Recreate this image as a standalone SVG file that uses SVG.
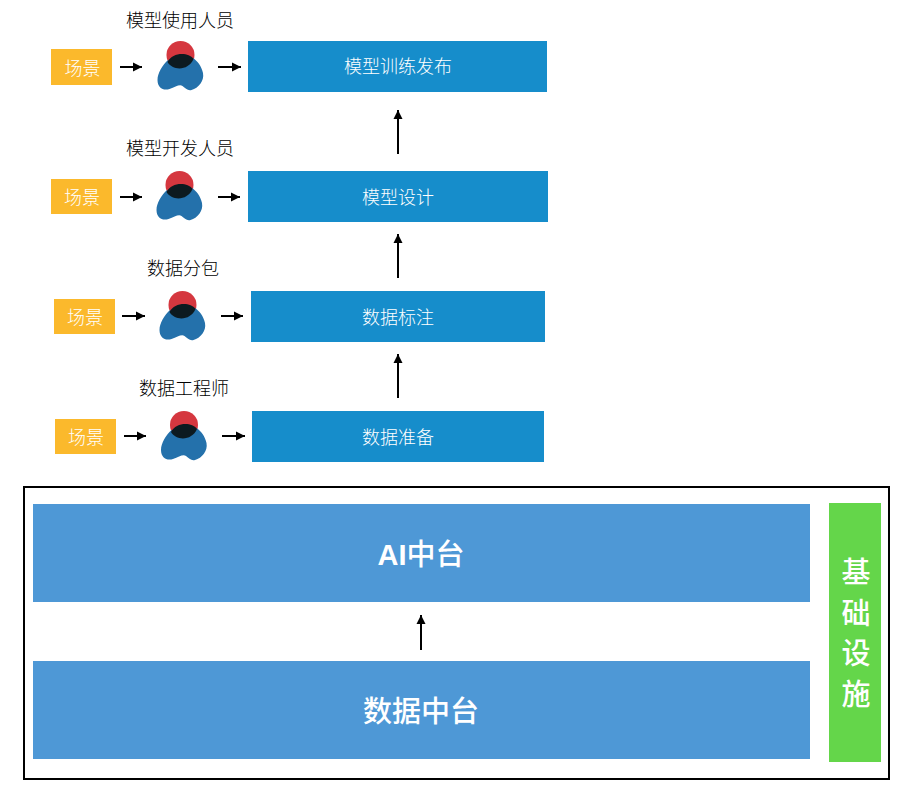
<svg xmlns="http://www.w3.org/2000/svg" width="918" height="788" viewBox="0 0 918 788">
<style>
text{font-family:"Noto Sans CJK SC","Liberation Sans",sans-serif;text-anchor:middle}
.t{font-size:18px;fill:#000;font-weight:300}
.s{fill:#fbb92c}.st{font-size:18px;fill:#fff;font-weight:300}
.b{fill:#168dcb}.bt{font-size:18px;fill:#fff;font-weight:300}
.l{stroke:#000;stroke-width:2;fill:none}
.big{fill:#4e98d6}.bigt{font-size:29px;font-weight:500;fill:#fff}
.lat{font-family:"Liberation Sans",sans-serif;font-weight:700}
.g{font-size:29px;font-weight:500;fill:#fff}
</style>
<defs>
<marker id="a" markerUnits="userSpaceOnUse" markerWidth="10" markerHeight="10" refX="9" refY="5" orient="auto"><path d="M0 .5 L9 5 L0 9.500Z" fill="#000"/></marker>
<g id="person">
<circle cx="0" cy="14" r="14" fill="#d5373f"/>
<path d="M-12.500 19 C-18 24 -23 32 -23 39 C-23 47 -17 50 -11 48 C-5 46 -1 43 2 45 C5 47 7 50 11 49 C18 47 24 40 22.500 32 C21 25 17 20 12.500 17 C6 27 -6 28 -12.500 19Z" fill="#2471ab"/>
<path d="M-13 21 C-8 11 8 11 13 18 C8 30 -8 30 -13 21Z" fill="#0c1a20"/>
</g>
</defs>
<rect width="918" height="788" fill="#fff"/>
<g id="connectors">
<path class="l" marker-end="url(#a)" d="M120 67H142"/><path class="l" marker-end="url(#a)" d="M218 67H241"/>
<path class="l" marker-end="url(#a)" d="M120 197H142"/><path class="l" marker-end="url(#a)" d="M218 197H240"/>
<path class="l" marker-end="url(#a)" d="M122 316H145"/><path class="l" marker-end="url(#a)" d="M221 316H243"/>
<path class="l" marker-end="url(#a)" d="M124 436H146"/><path class="l" marker-end="url(#a)" d="M222 436H245"/>
<path class="l" marker-end="url(#a)" d="M398 154V110"/><path class="l" marker-end="url(#a)" d="M398 278V234"/><path class="l" marker-end="url(#a)" d="M398 398V354"/>
<path class="l" marker-end="url(#a)" d="M421 650V615"/>
</g>
<g id="row1"><text class="t" x="180" y="27">模型使用人员</text><rect class="s" x="51" y="49" width="61" height="36"/><text class="st" x="82.500" y="75">场景</text><use href="#person" x="180.500" y="41"/><rect class="b" x="248" y="41" width="299" height="51"/><text class="bt" x="398" y="73">模型训练发布</text></g>
<g id="row2"><text class="t" x="180" y="155">模型开发人员</text><rect class="s" x="51" y="179" width="61" height="35"/><text class="st" x="82" y="204">场景</text><use href="#person" x="179.500" y="171"/><rect class="b" x="248" y="171" width="300" height="51"/><text class="bt" x="398" y="204">模型设计</text></g>
<g id="row3"><text class="t" x="183" y="275">数据分包</text><rect class="s" x="54" y="299" width="61" height="35"/><text class="st" x="85" y="324">场景</text><use href="#person" x="182.500" y="291"/><rect class="b" x="251" y="291" width="294" height="51"/><text class="bt" x="398" y="324">数据标注</text></g>
<g id="row4"><text class="t" x="184" y="395">数据工程师</text><rect class="s" x="55" y="419" width="61" height="35"/><text class="st" x="86" y="444">场景</text><use href="#person" x="184" y="411"/><rect class="b" x="252" y="411" width="292" height="51"/><text class="bt" x="398" y="444">数据准备</text></g>
<g id="platform">
<rect x="24" y="487" width="865" height="292" fill="none" stroke="#000" stroke-width="2"/>
<rect class="big" x="33" y="504" width="777" height="98"/><text class="bigt" x="421" y="565"><tspan class="lat">AI</tspan>中台</text>
<rect class="big" x="33" y="661" width="777" height="98"/><text class="bigt" x="421" y="722">数据中台</text>
<rect x="829" y="503" width="52" height="259" fill="#64d64a"/>
<text class="g" x="856" y="583">基</text><text class="g" x="856" y="624">础</text><text class="g" x="856" y="664">设</text><text class="g" x="856" y="705">施</text>
</g>
</svg>
